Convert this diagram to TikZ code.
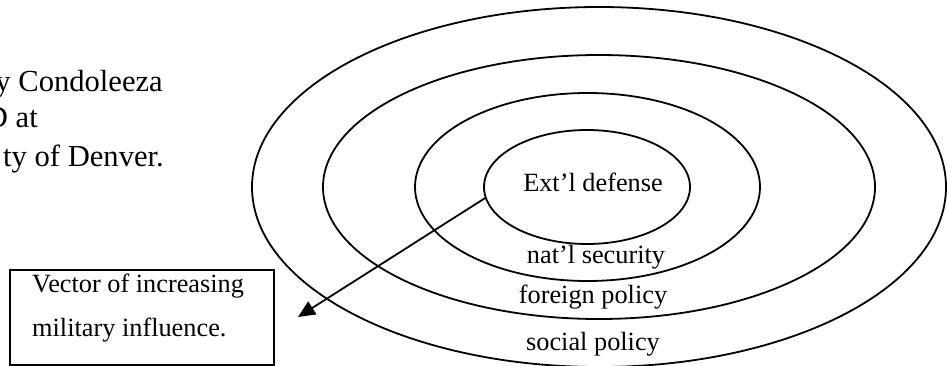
\documentclass[tikz,border=0pt]{standalone}
\usepackage{fontspec}
\setmainfont{Liberation Serif}
\usetikzlibrary{shapes.geometric,arrows.meta}
\begin{document}
\begin{tikzpicture}[x=1pt,y=-1pt,
  ring/.style={draw, ellipse, line width=1.8pt, inner sep=0pt, outer sep=0pt},
  lbl/.style={font=\fontsize{26.3}{30}\selectfont, inner sep=0pt, anchor=base},
  side/.style={font=\fontsize{30.6}{37}\selectfont, inner sep=0pt, anchor=base east},
  vec/.style={line width=1.8pt, -{Triangle[length=17pt,width=15pt]}}]
\useasboundingbox (0,0) rectangle (947,366);
% rings
\node[ring, minimum width=694, minimum height=360] (social) at (599,187) {};
\node[ring, minimum width=552, minimum height=264] (foreign) at (599,187) {};
\node[ring, minimum width=345, minimum height=188] (natl) at (587.5,187) {};
\node[ring, minimum width=206, minimum height=114] (extl) at (587,187) {};
% ring labels
\node[lbl] (extllbl) at (593,192) {Ext’l defense};
\node[lbl] (natllbl) at (596,263) {nat’l security};
\node[lbl] (forlbl) at (593,303) {foreign policy};
\node[lbl] (soclbl) at (593,350) {social policy};
% box
\node[draw, line width=1.6pt, minimum width=264, minimum height=95, inner sep=0pt, outer sep=0pt] (vbox) at (142,317.5) {};
\node[font=\fontsize{26.3}{44}\selectfont, align=left, anchor=base west, inner sep=0pt] (vtext) at (32,336) {Vector of increasing\\military influence.};
% arrow
\coordinate (tip) at (298,317);
\draw[vec] (extl.186) -- (tip);
% side text (cut at left edge as in the reference)
\node[side] (l1) at (163,92) {y Condoleeza};
\node[side] (l2) at (38,128) {D at};
\node[side] (l3) at (164,167) {ty of Denver.};
\end{tikzpicture}
\end{document}
